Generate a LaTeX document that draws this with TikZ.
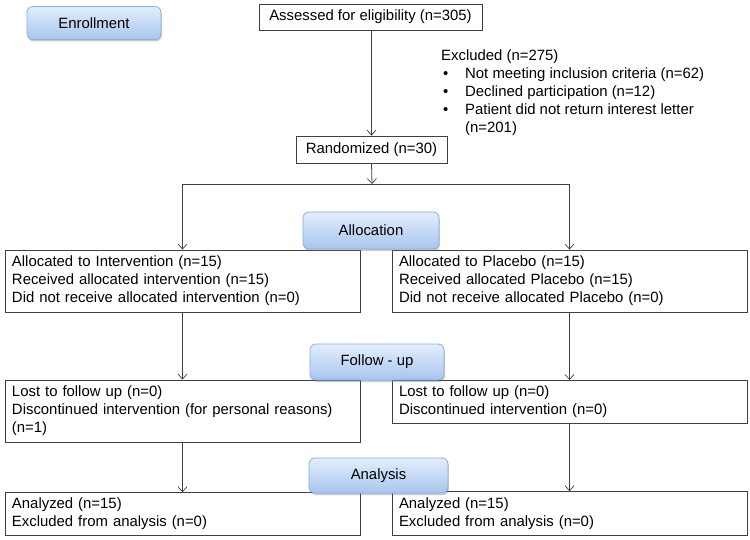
\documentclass[tikz,border=0pt]{standalone}
\usepackage{fontspec}
\setmainfont{Liberation Sans}
\usetikzlibrary{arrows.meta,shadows}
\definecolor{lineC}{HTML}{404040}
\definecolor{phTop}{HTML}{E3EEFC}
\definecolor{phBot}{HTML}{A8C5EF}
\definecolor{phBorder}{HTML}{8AAEE0}
\tikzset{
  txt/.style={font=\fontsize{14.9}{18}\selectfont},
  plainbox/.style={txt,draw=lineC,line width=0.8pt,fill=white,inner sep=0pt,
    minimum height=#1},
  bigbox/.style={txt,draw=lineC,line width=0.8pt,fill=white,inner xsep=7pt,inner ysep=0pt,
    text width=341pt,align=left,minimum height=#1},
  phase/.style={txt,draw=phBorder,line width=0.8pt,rounded corners=6pt,
    top color=phTop,bottom color=phBot,inner sep=0pt,
    minimum width=#1,minimum height=33pt,
    drop shadow={shadow xshift=0.8pt,shadow yshift=-2pt,opacity=0.35,fill=black!60}},
  conn/.style={draw=lineC,line width=0.8pt},
  arr/.style={conn,-{Straight Barb[length=5pt,width=9pt,line width=0.7pt]}},
}
\begin{document}
\begin{tikzpicture}[x=1pt,y=-1pt]
\useasboundingbox (0,0) rectangle (750,540);

% top boxes
\node[plainbox=26pt,minimum width=223pt] (assess) at (370.5,17) {Assessed for eligibility (n=305)};
\node[plainbox=27pt,minimum width=151pt] (rand) at (371.5,149.5) {Randomized (n=30)};

\node[txt,anchor=north west,align=left,inner sep=0pt] (excl) at (441,50)
 {Excluded (n=275)\\
  \makebox[24pt][l]{\hspace{2pt}•}Not meeting inclusion criteria (n=62)\\
  \makebox[24pt][l]{\hspace{2pt}•}Declined participation (n=12)\\
  \makebox[24pt][l]{\hspace{2pt}•}Patient did not return interest letter\\
  \hspace*{24pt}(n=201)};

% allocation boxes
\node[bigbox=62pt] (allocL) at (182.5,281) {Allocated to Intervention (n=15)\\Received allocated intervention (n=15)\\Did not receive allocated intervention (n=0)};
\node[bigbox=62pt] (allocR) at (569.5,281) {Allocated to Placebo (n=15)\\Received allocated Placebo (n=15)\\Did not receive allocated Placebo (n=0)};

% follow-up boxes
\node[bigbox=62pt] (follL) at (182.5,411) {Lost to follow up (n=0)\\Discontinued intervention (for personal reasons)\\(n=1)};
\node[bigbox=43pt,anchor=north] (follR) at (569.5,380) {Lost to follow up (n=0)\\Discontinued intervention (n=0)};

% analysis boxes
\node[bigbox=43pt,anchor=south] (anaL) at (182.5,536) {Analyzed (n=15)\\Excluded from analysis (n=0)};
\node[bigbox=44pt,anchor=south] (anaR) at (569.5,536) {Analyzed (n=15)\\Excluded from analysis (n=0)};

% phase labels
\node[phase=134pt] (enr) at (94,23) {Enrollment};
\node[phase=136pt,minimum height=37pt] (alloc) at (371,230.5) {Allocation};
\node[phase=134pt,minimum height=36pt] (foll) at (377,362) {Follow - up};
\node[phase=139pt,minimum height=35pt] (ana) at (378.5,475.5) {Analysis};

% connectors
\coordinate (split) at (372,184);
\coordinate (splitL) at (allocL.north |- split);
\coordinate (splitR) at (allocR.north |- split);
\draw[arr] (assess.south -| rand.north) -- (rand.north);
\draw[arr] (rand.south) -- (split);
\draw[conn] (splitL) -- (splitR);
\draw[arr] (splitL) -- (allocL.north);
\draw[arr] (splitR) -- (allocR.north);
\draw[arr] (allocL.south) -- (follL.north);
\draw[arr] (allocR.south) -- (follR.north);
\draw[arr] (follL.south) -- (anaL.north);
\draw[arr] (follR.south) -- (anaR.north);
\end{tikzpicture}
\end{document}
